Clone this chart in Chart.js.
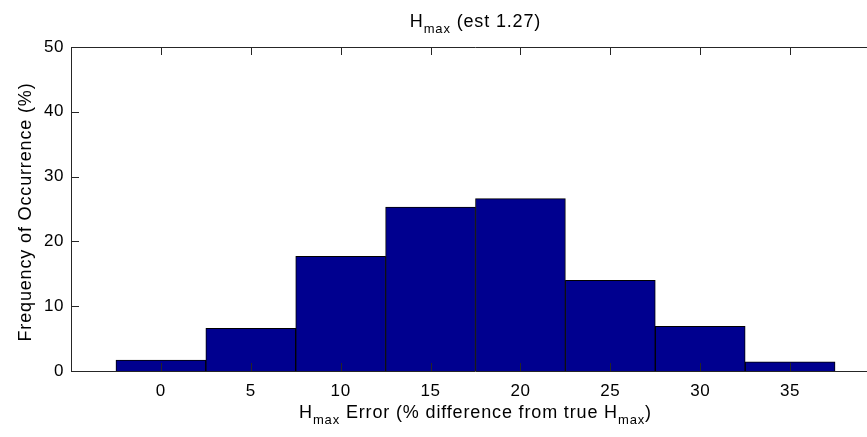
<!DOCTYPE html>
<html>
<head>
<meta charset="utf-8">
<script src="https://cdn.jsdelivr.net/npm/chart.js@4/dist/chart.umd.min.js"></script>
<style>
  html, body { margin: 0; padding: 0; background: #fff; overflow: hidden; }
</style>
</head>
<body>
<canvas id="hist" width="890" height="437"></canvas>
<script>
// histogram bins (centres) and frequency of occurrence (%)
const binCenters = [0, 5, 10, 15, 20, 25, 30, 35];
const frequency = [1.7, 6.6, 17.7, 25.3, 26.6, 14.0, 6.9, 1.4];
const xTicks = [-5, 0, 5, 10, 15, 20, 25, 30, 35, 40];
const yTicks = [0, 10, 20, 30, 40, 50];
const xLabelsShown = [0, 5, 10, 15, 20, 25, 30, 35];

const FONT = "'Liberation Sans', Arial, Helvetica, sans-serif";

// draws a line of text where some parts are subscripts (the "max" after H)
function drawSubText(ctx, parts, cx, baseline) {
    let total = 0;
    parts.forEach(p => {
        ctx.font = (p.sub ? '13px ' : '18px ') + FONT;
        p.w = ctx.measureText(p.t).width;
        total += p.w;
    });
    let x = cx - total / 2;
    parts.forEach(p => {
        ctx.font = (p.sub ? '13px ' : '18px ') + FONT;
        ctx.fillText(p.t, x, baseline + (p.sub ? 6 : 0));
        x += p.w;
    });
}

const matlabBox = {
    id: 'matlabBox',
    beforeDraw(chart) {
        // matlab text is a bit wider than Liberation Sans
        chart.ctx.letterSpacing = '0.6px';
    },
    afterDatasetsDraw(chart) {
        const { ctx, chartArea: a, scales } = chart;
        ctx.save();
        ctx.strokeStyle = '#262626';
        ctx.lineWidth = 1;
        ctx.beginPath();
        ctx.moveTo(a.left + 0.5, a.bottom + 0.5);
        ctx.lineTo(a.left + 0.5, a.top + 0.5);
        ctx.lineTo(a.right - 0.5, a.top + 0.5);
        ctx.lineTo(a.right - 0.5, a.bottom + 0.5);
        ctx.closePath();
        // inward ticks (the right side is outside the window anyway)
        xTicks.forEach(v => {
            const px = Math.round(scales.x.getPixelForValue(v)) + 0.5;
            ctx.moveTo(px, a.bottom);
            ctx.lineTo(px, a.bottom - 8);
            ctx.moveTo(px, a.top);
            ctx.lineTo(px, a.top + 8);
        });
        yTicks.forEach(v => {
            const py = Math.round(scales.y.getPixelForValue(v)) + 0.5;
            ctx.moveTo(a.left, py);
            ctx.lineTo(a.left + 8, py);
        });
        ctx.stroke();

        // title and axis labels
        ctx.fillStyle = '#000';
        ctx.textBaseline = 'alphabetic';
        ctx.textAlign = 'left';
        ctx.letterSpacing = '0.85px';
        const cx = (a.left + a.right) / 2;
        drawSubText(ctx, [{ t: 'H' }, { t: 'max', sub: true }, { t: ' (est 1.27)' }], cx, 27);
        drawSubText(ctx, [{ t: 'H' }, { t: 'max', sub: true }, { t: ' Error (% difference from true H' },
                          { t: 'max', sub: true }, { t: ')' }], cx, 418);

        ctx.translate(31, (a.top + a.bottom) / 2 + 3);
        ctx.rotate(-Math.PI / 2);
        drawSubText(ctx, [{ t: 'Frequency of Occurrence (%)' }], 0, 0);
        ctx.restore();
    }
};

new Chart(document.getElementById('hist'), {
    type: 'bar',
    data: {
        datasets: [{
            data: binCenters.map((x, i) => ({ x: x, y: frequency[i] })),
            backgroundColor: '#00008F',
            borderColor: '#000000',
            borderWidth: 1,
            barPercentage: 1,
            categoryPercentage: 1
        }]
    },
    options: {
        responsive: false,
        animation: false,
        layout: { padding: { top: 47, right: 1, left: 0, bottom: 0 } },
        plugins: { legend: { display: false }, tooltip: { enabled: false }, title: { display: false } },
        scales: {
            x: {
                type: 'linear',
                min: -5,
                max: 40,
                offset: false,
                afterBuildTicks: s => { s.ticks = xTicks.map(v => ({ value: v })); },
                afterFit: s => { s.height = 66; },
                grid: { display: false, drawTicks: false, offset: false },
                border: { display: false },
                ticks: {
                    color: '#000',
                    font: { family: FONT, size: 17 },
                    padding: 10,
                    maxRotation: 0,
                    autoSkip: false,
                    callback: v => xLabelsShown.includes(v) ? String(v) : ''
                }
            },
            y: {
                min: 0,
                max: 50,
                afterBuildTicks: s => { s.ticks = yTicks.map(v => ({ value: v })); },
                afterFit: s => { s.width = 71; },
                grid: { display: false, drawTicks: false },
                border: { display: false },
                ticks: {
                    color: '#000',
                    font: { family: FONT, size: 17 },
                    padding: 7
                }
            }
        }
    },
    plugins: [matlabBox]
});
</script>
</body>
</html>
